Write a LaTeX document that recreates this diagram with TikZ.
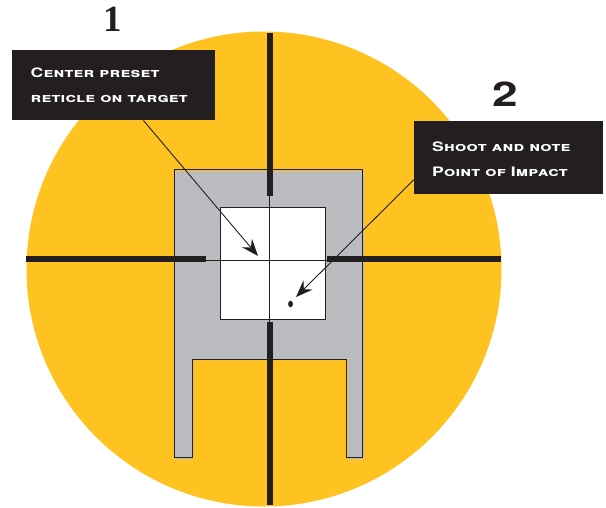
\documentclass[tikz,border=0pt]{standalone}
\usepackage{fontspec}
\setmainfont{TeX Gyre Heros}[FakeStretch=1.35, LetterSpace=1.5]
\newfontfamily\numfont{Liberation Serif}
\usetikzlibrary{arrows.meta}
\definecolor{scopeyellow}{HTML}{FFC321}
\definecolor{targetgray}{HTML}{BBBCBF}
\definecolor{inkblack}{HTML}{231F20}
\begin{document}
\begin{tikzpicture}[x=1pt, y=-1pt,
    hair/.style={draw=inkblack, line width=1pt},
    thick bar/.style={draw=inkblack, line width=5.4pt},
    pointer/.style={draw=inkblack, line width=0.9pt, -{Stealth[length=17pt, width=13pt, inset=6pt]}},
    callout/.style={fill=inkblack, text=white, anchor=north west, inner sep=0pt, align=left, font=\fontsize{13}{25}\selectfont\bfseries\scshape},
    stepnum/.style={text=inkblack, font=\fontsize{34}{34}\selectfont\bfseries, inner sep=0pt}]
  \useasboundingbox (0,0) rectangle (606,508);
  \fill[scopeyellow] (264,269) circle (237.5);
  \fill[targetgray] (175,171) -- (364,171) -- (364,459) -- (348,459) -- (348,360) -- (193,360) -- (193,459) -- (175,459) -- cycle;
  \draw[hair] (174,170) -- (362.5,170) -- (362.5,457.5) -- (346.5,457.5) -- (346.5,359.5) -- (192,359.5) -- (192,457.5) -- (174,457.5) -- cycle;
  \draw[hair, fill=white] (220,208) rectangle (325,319.5);
  \draw[hair] (206,260.5) -- (327,260.5);
  \draw[hair] (269.7,196) -- (269.7,322);
  \draw[thick bar] (270,33) -- (270,196);
  \draw[thick bar] (270,322) -- (270,505);
  \draw[thick bar] (26,259) -- (206,259);
  \draw[thick bar] (327,259) -- (501,259);
  \fill[inkblack] (290.5,304) ellipse (2.4 and 3.3);
  \node[stepnum, font=\fontsize{37}{37}\selectfont\bfseries\numfont] (num1) at (113,19) {1};
  \node[stepnum] (num2) at (505,94) {2};
  \node[callout, minimum width=203pt, minimum height=70pt] (box1) at (12,50) {};
  \node[callout, minimum width=189pt, minimum height=73pt] (box2) at (414,121) {};
  \node[callout, fill=none, anchor=west] (text1) at (30.5,85) {Center preset\\reticle on target};
  \node[callout, fill=none, anchor=west] (text2) at (432,159) {Shoot and note\\Point of Impact};
  \coordinate (aim1) at (258,256);
  \coordinate (aim2) at (296,297);
  \draw[pointer] (box1) -- (aim1);
  \draw[pointer] (box2.193) -- (aim2);
\end{tikzpicture}
\end{document}
